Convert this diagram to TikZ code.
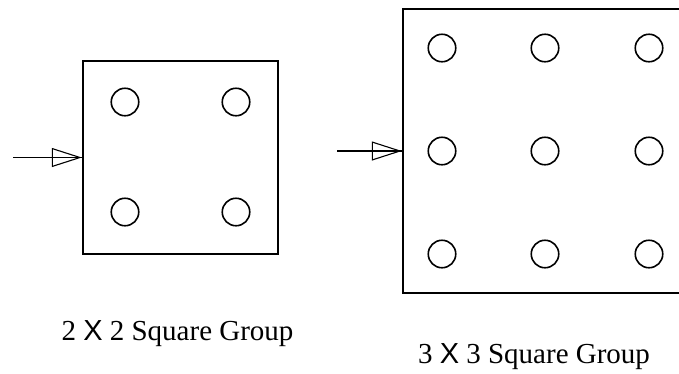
\documentclass[tikz,border=0pt]{standalone}
\usepackage{fontspec}
\setmainfont{Liberation Serif}
\newfontfamily\crossfont{Liberation Sans}
\usepackage{tikz}
\usetikzlibrary{arrows.meta}

\begin{document}
\begin{tikzpicture}[x=1pt, y=-1pt,
    group/.style={draw, line width=2.4pt, inner sep=0pt},
    pile/.style={draw, circle, line width=1.6pt, minimum size=27.5pt, inner sep=0pt},
    load/.style={line width=1.7pt},
    loadtip/.style={-{Triangle[open, length=30pt, width=19pt, line width=1.1pt]}},
    caption/.style={font=\fontsize{29}{32}\selectfont, anchor=base}]
    \clip (0,0) rectangle (679,373);

    % 2 X 2 Square Group
    \node[group, minimum width=195pt, minimum height=193pt] (sq2) at (180.5,157.5) {};
    \foreach \i/\x in {1/125, 2/236}
        \foreach \j/\y in {1/102, 2/212}
            \node[pile] (p2-\i\j) at (\x,\y) {};
    \coordinate (f2) at (13,157.5);
    \draw[load] (f2) -- (sq2.west);
    \draw[loadtip] ([xshift=-31pt]sq2.west) -- (sq2.west);
    \node[caption] (t2) at (177.5,340) {2 {\crossfont X} 2 Square Group};

    % 3 X 3 Square Group
    \node[group, minimum width=285pt, minimum height=284pt] (sq3) at (545.5,151) {};
    \foreach \i/\x in {1/442, 2/545, 3/649}
        \foreach \j/\y in {1/48, 2/151, 3/254}
            \node[pile] (p3-\i\j) at (\x,\y) {};
    \coordinate (f3) at (337,151);
    \draw[load] (f3) -- (sq3.west);
    \draw[loadtip] ([xshift=-29pt]sq3.west) -- (sq3.west);
    \node[caption] (t3) at (534,363) {3 {\crossfont X} 3 Square Group};
\end{tikzpicture}
\end{document}
